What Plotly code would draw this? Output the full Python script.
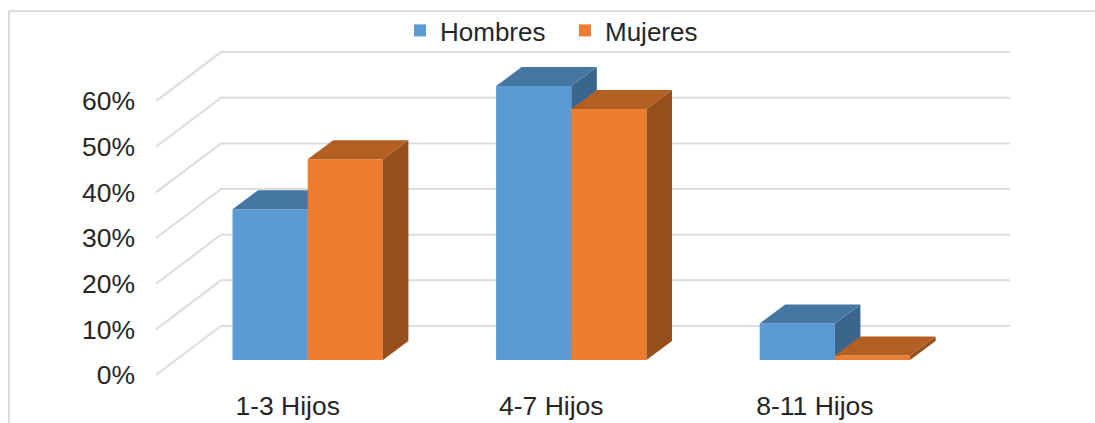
import plotly.graph_objects as go

categories = ["1-3 Hijos", "4-7 Hijos", "8-11 Hijos"]
hombres = [33, 60, 8]
mujeres = [44, 55, 1]
tick_values = [0, 10, 20, 30, 40, 50, 60]
tick_labels = ["0%", "10%", "20%", "30%", "40%", "50%", "60%"]

W, H = 1095, 423
PX_PER_PCT = 4.565
PX_PER_CAT = 263.6
X0_PX = 307.7
BASE_PX = 360.0
WALL0_PX = 375.0
BAR_W = 75.2 / PX_PER_CAT
DX = 25.5 / PX_PER_CAT
DY = 19 / PX_PER_PCT
WALL_DX = 65 / PX_PER_CAT
WALL_DY = 49 / PX_PER_PCT
WALL_LEFT = (156 - X0_PX) / PX_PER_CAT
WALL_RIGHT = (1010 - X0_PX) / PX_PER_CAT
GRID = "#dcdcdc"
FONT = dict(family="Liberation Sans, Arial, sans-serif", size=26.5, color="#262626")
LEGEND_FONT = dict(family="Liberation Sans, Arial, sans-serif", size=26, color="#262626")

x_range = [-X0_PX / PX_PER_CAT, (W - X0_PX) / PX_PER_CAT]
y_wall = [-(H - WALL0_PX) / PX_PER_PCT, WALL0_PX / PX_PER_PCT]
y_bars = [-(H - BASE_PX) / PX_PER_PCT, BASE_PX / PX_PER_PCT]

fig = go.Figure()

# Wall and floor gridlines, on the axis that carries the percent labels
for v in tick_values:
    fig.add_trace(go.Scatter(
        x=[WALL_LEFT, WALL_LEFT + WALL_DX, WALL_RIGHT],
        y=[v, v + WALL_DY, v + WALL_DY],
        mode="lines", line=dict(color=GRID, width=2),
        showlegend=False, hoverinfo="skip", xaxis="x", yaxis="y"))


def add_series(name, values, offset, front, top, side, xa, ya):
    xs = [i + offset for i in range(len(values))]
    fig.add_trace(go.Bar(x=xs, y=values, width=BAR_W, name=name,
                         marker=dict(color=front, line=dict(width=0)),
                         xaxis=xa, yaxis=ya))
    for c, v in zip(xs, values):
        l, r = c - BAR_W / 2, c + BAR_W / 2
        fig.add_trace(go.Scatter(
            x=[r, r + DX, r + DX, r, r], y=[0, DY, v + DY, v, 0],
            mode="lines", fill="toself", fillcolor=side, line=dict(width=0),
            showlegend=False, hoverinfo="skip", xaxis=xa, yaxis=ya))
        fig.add_trace(go.Scatter(
            x=[l, l + DX, r + DX, r, l], y=[v, v + DY, v + DY, v, v],
            mode="lines", fill="toself", fillcolor=top, line=dict(width=0),
            showlegend=False, hoverinfo="skip", xaxis=xa, yaxis=ya))


add_series("Hombres", hombres, -BAR_W / 2, "#5B9BD5", "#4677A3", "#3A668E", "x2", "y2")
add_series("Mujeres", mujeres, BAR_W / 2, "#ED7D31", "#B35E22", "#97501C", "x3", "y3")

hidden = dict(visible=False, fixedrange=True)
fig.update_layout(
    width=W, height=H, margin=dict(l=0, r=0, t=0, b=0),
    paper_bgcolor="white", plot_bgcolor="white", font=FONT, barmode="overlay",
    xaxis=dict(range=x_range, domain=[0, 1], anchor="free", position=(H - 387) / H,
               tickmode="array", tickvals=[i - 20 / PX_PER_CAT for i in range(3)],
               ticktext=categories, showgrid=False, zeroline=False, showline=False,
               ticks="", fixedrange=True, tickfont=FONT),
    yaxis=dict(range=y_wall, domain=[0, 1], anchor="free", position=135 / W,
               tickmode="array", tickvals=tick_values, ticktext=tick_labels,
               showgrid=False, zeroline=False, showline=False, ticks="",
               fixedrange=True, tickfont=FONT),
    xaxis2=dict(range=x_range, overlaying="x", **hidden),
    yaxis2=dict(range=y_bars, overlaying="y", **hidden),
    xaxis3=dict(range=x_range, overlaying="x", **hidden),
    yaxis3=dict(range=y_bars, overlaying="y", **hidden),
    legend=dict(orientation="h", x=400 / W, xanchor="left", y=(H - 7) / H, yanchor="top",
                font=LEGEND_FONT, bgcolor="rgba(0,0,0,0)", traceorder="normal",
                entrywidth=120, entrywidthmode="pixels"),
    shapes=[
        dict(type="line", xref="paper", yref="paper", x0=9 / W, x1=1, y0=(H - 11) / H, y1=(H - 11) / H,
             line=dict(color=GRID, width=2)),
        dict(type="line", xref="paper", yref="paper", x0=9 / W, x1=9 / W, y0=0, y1=(H - 11) / H,
             line=dict(color=GRID, width=2)),
    ],
)

fig.write_html("out.html", config=dict(displayModeBar=False),
               post_script="document.body.style.margin='0';document.body.style.overflow='hidden';")
